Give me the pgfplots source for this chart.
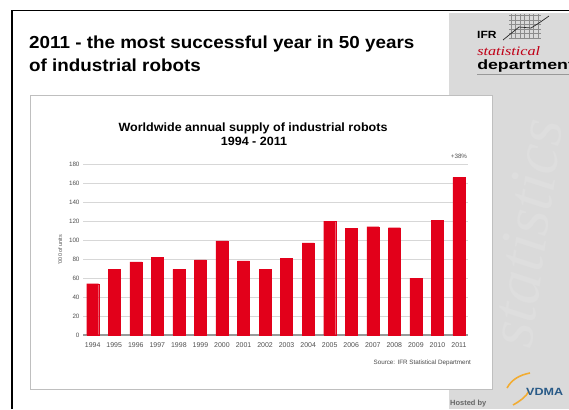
\documentclass[border=0pt]{standalone}
\usepackage{fontspec}
\setmainfont{Liberation Sans}
\newfontfamily\serifit{Liberation Serif}
\usepackage{pgfplots}
\pgfplotsset{compat=1.18}
\definecolor{barred}{RGB}{226,0,26}
\definecolor{panelgray}{RGB}{218,218,218}
\definecolor{vdmablue}{RGB}{40,90,135}
\definecolor{vdmaorange}{RGB}{242,172,50}
\definecolor{gridgray}{RGB}{215,215,215}
\definecolor{ticktext}{RGB}{80,80,80}

\pgfplotstableread{
x year value
0 1994 54
1 1995 69
2 1996 77
3 1997 82
4 1998 69
5 1999 79
6 2000 99
7 2001 78
8 2002 69
9 2003 81
10 2004 97
11 2005 120
12 2006 112
13 2007 114
14 2008 113
15 2009 60
16 2010 121
17 2011 166
}\robots

\begin{document}
\begin{tikzpicture}[x=1bp,y=1bp]
\useasboundingbox (0,0) rectangle (569,409);
\fill[white] (0,0) rectangle (569,409);
% right gray panel
\fill[panelgray] (449,0) rectangle (569,396);
\begin{scope}
\clip (492,0) rectangle (569,330);
\node[rotate=82, text=panelgray!88!white, font=\serifit\itshape\fontsize{66}{66}\selectfont] at (526,176) {statistics};
\end{scope}
% frame
\draw[black, line width=2] (12,0) -- (12,398.5) -- (569,398.5);
% chart box
\draw[black!25, line width=0.8, fill=white] (30,20) rectangle (492,314);
% slide title
\node[anchor=base west, inner sep=0, xscale=1.08, font=\bfseries\fontsize{17.5}{17.5}\selectfont] at (29,361) {2011 - the most successful year in 50 years};
\node[anchor=base west, inner sep=0, xscale=1.08, font=\bfseries\fontsize{17.5}{17.5}\selectfont] at (29,338) {of industrial robots};
% chart title
\node[anchor=base, inner sep=0, xscale=1.05, font=\bfseries\fontsize{12}{12}\selectfont] at (253,278) {Worldwide annual supply of industrial robots};
\node[anchor=base, inner sep=0, xscale=1.05, font=\bfseries\fontsize{12}{12}\selectfont] at (254,264) {1994 - 2011};
% source
\node[anchor=east, inner sep=0, text=black!70, font=\fontsize{6.3}{7}\selectfont] at (471,46) {Source: IFR Statistical Department};

\begin{axis}[
  at={(83bp,74bp)}, anchor=south west,
  scale only axis, width=385bp, height=171bp,
  xmin=-0.45, xmax=17.42, ymin=0, ymax=180,
  ybar, bar width=12bp,
  axis x line*=bottom, axis y line*=left,
  x axis line style={draw=black!40, line width=1.2, -},
  y axis line style={draw=none},
  xtick=data, xticklabels={1994,1995,1996,1997,1998,1999,2000,2001,2002,2003,2004,2005,2006,2007,2008,2009,2010,2011},
  x tick label style={font=\fontsize{7}{7}\selectfont, text=ticktext},
  xtick style={draw=none},
  ytick={0,20,...,180},
  ymajorgrids, grid style={draw=gridgray, line width=0.8},
  y tick label style={font=\fontsize{6.3}{7}\selectfont, text=ticktext},
  ytick style={draw=none},
  /pgf/number format/assume math mode=true,
  ylabel={'000 of units}, ylabel style={font=\fontsize{5.5}{6}\selectfont, text=ticktext},
  clip=false,
]
\addplot[fill=barred, draw=barred, line width=0.3] table[x=x, y=value] {\robots};
\node[font=\fontsize{6.3}{7}\selectfont, text=ticktext] at (axis cs:17,188) {+38\%};
\end{axis}

% IFR logo
\begin{scope}
\clip (509,370) rectangle (541,395);
\foreach \i in {0,...,6} \draw[black!45, line width=0.4] (511+\i*4.5,370) -- (511+\i*4.5,395);
\foreach \j in {0,...,5} \draw[black!45, line width=0.4] (509,371+\j*4.5) -- (541,371+\j*4.5);
\end{scope}
\draw[black!85, line width=0.7] (503,369) -- (519,382) -- (531,381) -- (539,386) -- (549,393);
\node[anchor=base west, inner sep=0, xscale=1.15, font=\bfseries\fontsize{10.5}{10.5}\selectfont] at (477,371) {IFR};
\begin{scope}
\clip (449,0) rectangle (569,396);
\node[anchor=base west, inner sep=0, text=barred!85!black, xscale=1.25, font=\serifit\itshape\fontsize{13}{13}\selectfont] at (477,354) {statistical};
\node[anchor=base west, inner sep=0, xscale=1.32, font=\bfseries\fontsize{13.5}{13.5}\selectfont] at (477,340) {department};
\draw[black!40, line width=1] (477,335) -- (569,335);
\end{scope}
% VDMA logo
\draw[vdmaorange, line width=1.6] (507,21) .. controls (512,30) and (520,34) .. (530,36);
\draw[vdmaorange, line width=1.6] (513,4) .. controls (520,8) and (526,12) .. (529,18);
\node[anchor=base west, inner sep=0, text=vdmablue, xscale=1.2, font=\bfseries\fontsize{10.5}{10.5}\selectfont] at (526,14) {VDMA};
\node[anchor=base west, inner sep=0, text=black!60, font=\bfseries\fontsize{7.5}{7.5}\selectfont] at (450,4) {Hosted by};
\end{tikzpicture}
\end{document}
